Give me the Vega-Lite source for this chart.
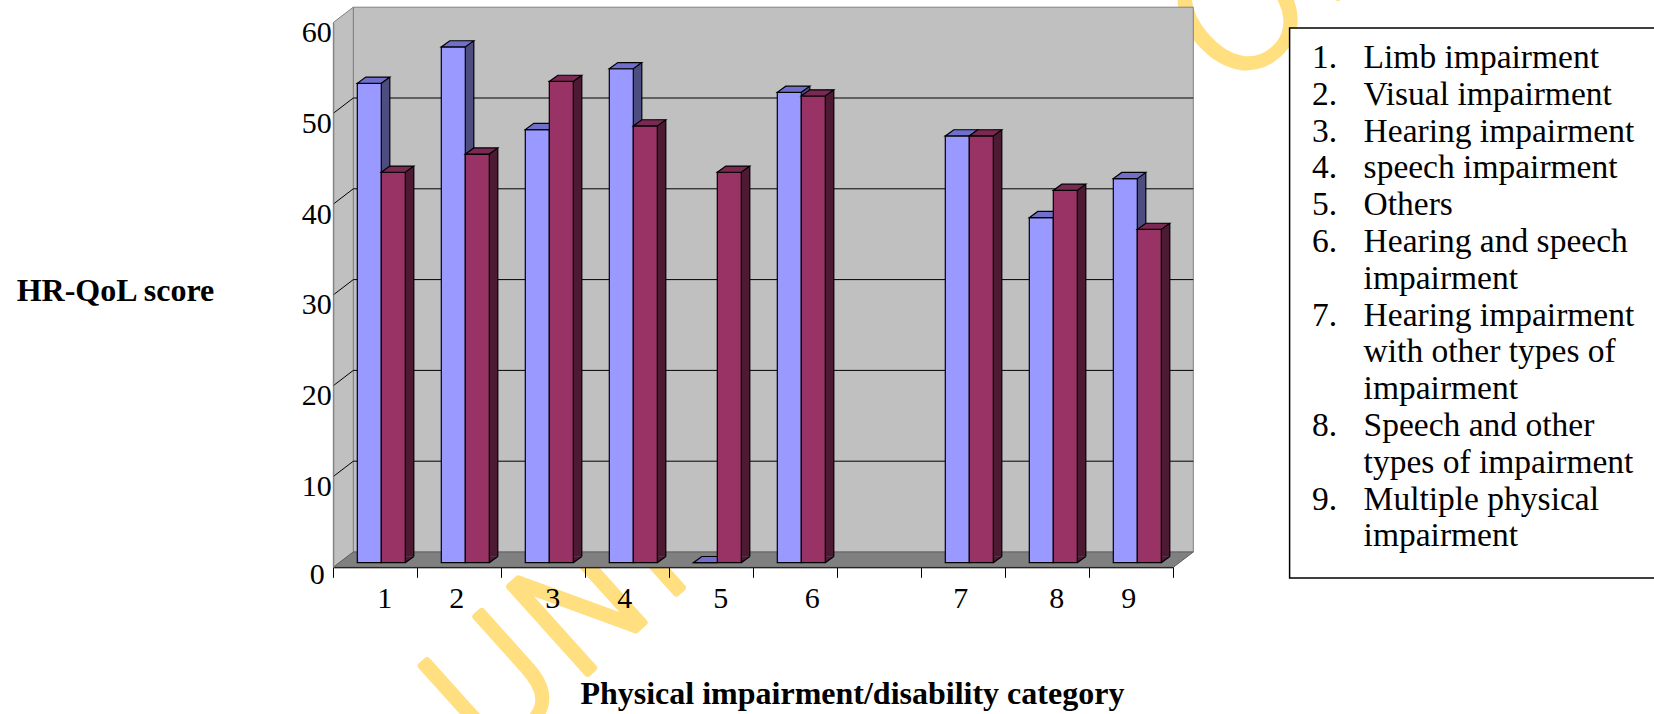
{
  "$schema": "https://vega.github.io/schema/vega-lite/v6.json",
  "width": 1654,
  "height": 714,
  "autosize": {"type": "none"},
  "padding": 0,
  "background": "white",
  "config": {"view": {"stroke": null}},
  "datasets": {
    "scores": [
      {"cat": "1", "series": "Series 1", "value": 52.8}, {"cat": "1", "series": "Series 2", "value": 43.0},
      {"cat": "2", "series": "Series 1", "value": 56.8}, {"cat": "2", "series": "Series 2", "value": 45.0},
      {"cat": "3", "series": "Series 1", "value": 47.7}, {"cat": "3", "series": "Series 2", "value": 53.0},
      {"cat": "4", "series": "Series 1", "value": 54.4}, {"cat": "4", "series": "Series 2", "value": 48.1},
      {"cat": "5", "series": "Series 1", "value": 0}, {"cat": "5", "series": "Series 2", "value": 43.0},
      {"cat": "6", "series": "Series 1", "value": 51.8}, {"cat": "6", "series": "Series 2", "value": 51.4},
      {"cat": "7", "series": "Series 1", "value": 47.0}, {"cat": "7", "series": "Series 2", "value": 47.0},
      {"cat": "8", "series": "Series 1", "value": 38.0}, {"cat": "8", "series": "Series 2", "value": 41.0},
      {"cat": "9", "series": "Series 1", "value": 42.3}, {"cat": "9", "series": "Series 2", "value": 36.7}
    ],
    "grid": [{"tick": 10}, {"tick": 20}, {"tick": 30}, {"tick": 40}, {"tick": 50}],
    "one": [{}],
    "legendItems": [
      {"key": "1", "num": "1.", "text": "Limb impairment"},
      {"key": "2", "num": "2.", "text": "Visual impairment"},
      {"key": "3", "num": "3.", "text": "Hearing impairment"},
      {"key": "4", "num": "4.", "text": "speech impairment"},
      {"key": "5", "num": "5.", "text": "Others"},
      {"key": "6", "num": "6.", "text": "Hearing and speech"},
      {"key": "6b", "num": "", "text": "impairment"},
      {"key": "7", "num": "7.", "text": "Hearing impairment"},
      {"key": "7b", "num": "", "text": "with other types of"},
      {"key": "7c", "num": "", "text": "impairment"},
      {"key": "8", "num": "8.", "text": "Speech and other"},
      {"key": "8b", "num": "", "text": "types of impairment"},
      {"key": "9", "num": "9.", "text": "Multiple physical"},
      {"key": "9b", "num": "", "text": "impairment"}
    ]
  },
  "layer": [
    {
      "data": {"name": "one"},
      "mark": {"type": "text", "text": "UNIVERSITY OF IBADAN LIBRARY", "angle": -42, "align": "left", "baseline": "alphabetic", "font": "DejaVu Sans", "fontWeight": 200, "fontSize": 160, "fill": "#FFDF80", "stroke": "#FFDF80", "strokeWidth": 7, "strokeJoin": "round", "dx": -43.5, "dy": 246.8},
      "encoding": {
        "x": {"datum": "1", "bandPosition": 0, "type": "nominal", "axis": null, "scale": {"type": "band", "domain": ["1", "2", "3", "4", "5", "6", " ", "7", "8", "9"], "range": [353.3, 1193.3], "paddingInner": 0, "paddingOuter": 0}},
        "y": {"datum": 0, "type": "quantitative", "axis": null, "scale": {"type": "linear", "domain": [0, 60], "range": [552, 7.2], "nice": false, "zero": true}}
      }
    },
    {
      "data": {"name": "one"},
      "mark": {"type": "rect", "fill": "#C0C0C0", "stroke": "#808080", "strokeWidth": 1},
      "encoding": {
        "x": {"datum": "1", "bandPosition": 0, "type": "nominal", "axis": null, "scale": {"type": "band", "domain": ["1", "2", "3", "4", "5", "6", " ", "7", "8", "9"], "range": [353.3, 1193.3], "paddingInner": 0, "paddingOuter": 0}},
        "x2": {"datum": "9", "bandPosition": 1},
        "y": {"datum": 0, "type": "quantitative", "axis": null, "scale": {"type": "linear", "domain": [0, 60], "range": [552, 7.2], "nice": false, "zero": true}},
        "y2": {"datum": 60}
      }
    },
    {
      "data": {"name": "one"},
      "mark": {"type": "point", "shape": "M0 0 L0 -544.8 L-20 -529.5 L-20 15.3 Z", "size": 4, "filled": true, "fill": "#C0C0C0", "stroke": "#808080", "strokeWidth": 1, "opacity": 1},
      "encoding": {
        "x": {"datum": "1", "bandPosition": 0, "type": "nominal", "axis": null, "scale": {"type": "band", "domain": ["1", "2", "3", "4", "5", "6", " ", "7", "8", "9"], "range": [353.3, 1193.3], "paddingInner": 0, "paddingOuter": 0}},
        "y": {"datum": 0, "type": "quantitative", "axis": null, "scale": {"type": "linear", "domain": [0, 60], "range": [552, 7.2], "nice": false, "zero": true}}
      }
    },
    {
      "data": {"name": "one"},
      "mark": {"type": "point", "shape": "M0 0 L840 0 L820 15.3 L-20 15.3 Z", "size": 4, "filled": true, "fill": "#808080", "stroke": "#606060", "strokeWidth": 1, "opacity": 1},
      "encoding": {
        "x": {"datum": "1", "bandPosition": 0, "type": "nominal", "axis": null, "scale": {"type": "band", "domain": ["1", "2", "3", "4", "5", "6", " ", "7", "8", "9"], "range": [353.3, 1193.3], "paddingInner": 0, "paddingOuter": 0}},
        "y": {"datum": 0, "type": "quantitative", "axis": null, "scale": {"type": "linear", "domain": [0, 60], "range": [552, 7.2], "nice": false, "zero": true}}
      }
    },
    {
      "data": {"name": "grid"},
      "mark": {"type": "rule", "color": "black", "strokeWidth": 1},
      "encoding": {
        "x": {"datum": "1", "bandPosition": 0, "type": "nominal", "axis": null, "scale": {"type": "band", "domain": ["1", "2", "3", "4", "5", "6", " ", "7", "8", "9"], "range": [353.3, 1193.3], "paddingInner": 0, "paddingOuter": 0}},
        "x2": {"datum": "9", "bandPosition": 1},
        "y": {"field": "tick", "type": "quantitative", "axis": null, "scale": {"type": "linear", "domain": [0, 60], "range": [552, 7.2], "nice": false, "zero": true}}
      }
    },
    {
      "data": {"name": "grid"},
      "mark": {"type": "rule", "color": "black", "strokeWidth": 1, "x2Offset": -20, "y2Offset": 15.3},
      "encoding": {
        "x": {"datum": "1", "bandPosition": 0, "type": "nominal", "axis": null, "scale": {"type": "band", "domain": ["1", "2", "3", "4", "5", "6", " ", "7", "8", "9"], "range": [353.3, 1193.3], "paddingInner": 0, "paddingOuter": 0}},
        "x2": {"datum": "1", "bandPosition": 0},
        "y": {"field": "tick", "type": "quantitative", "axis": null, "scale": {"type": "linear", "domain": [0, 60], "range": [552, 7.2], "nice": false, "zero": true}},
        "y2": {"field": "tick"}
      }
    },
    {
      "data": {"name": "scores"},
      "transform": [{"filter": "datum.series === 'Series 1'"}],
      "mark": {"type": "rect", "fill": "#4D4D80", "strokeWidth": 0, "yOffset": 4.5, "y2Offset": 4.5},
      "encoding": {
        "x": {"field": "cat", "type": "nominal", "bandPosition": 0.333333, "axis": null, "scale": {"type": "band", "domain": ["1", "2", "3", "4", "5", "6", " ", "7", "8", "9"], "range": [353.3, 1193.3], "paddingInner": 0, "paddingOuter": 0}},
        "x2": {"field": "cat", "bandPosition": 0.434524},
        "y": {"field": "value", "type": "quantitative", "axis": null, "scale": {"type": "linear", "domain": [0, 60], "range": [552, 7.2], "nice": false, "zero": true}},
        "y2": {"datum": 0}
      }
    },
    {
      "data": {"name": "scores"},
      "transform": [{"filter": "datum.series === 'Series 1' && datum.value > 0"}],
      "mark": {"type": "point", "shape": "M0 0 L0 -6.2 L8.5 -6.2 Z", "size": 4, "filled": true, "fill": "#4D4D80", "strokeWidth": 0, "opacity": 1, "yOffset": 10.7},
      "encoding": {
        "x": {"field": "cat", "type": "nominal", "bandPosition": 0.333333, "axis": null, "scale": {"type": "band", "domain": ["1", "2", "3", "4", "5", "6", " ", "7", "8", "9"], "range": [353.3, 1193.3], "paddingInner": 0, "paddingOuter": 0}},
        "y": {"datum": 0, "type": "quantitative", "axis": null, "scale": {"type": "linear", "domain": [0, 60], "range": [552, 7.2], "nice": false, "zero": true}}
      }
    },
    {
      "data": {"name": "scores"},
      "transform": [{"filter": "datum.series === 'Series 1' && datum.value > 0"}],
      "mark": {"type": "rule", "color": "black", "strokeWidth": 1.2, "yOffset": 4.5, "y2Offset": 4.5},
      "encoding": {
        "x": {"field": "cat", "type": "nominal", "bandPosition": 0.434524, "axis": null, "scale": {"type": "band", "domain": ["1", "2", "3", "4", "5", "6", " ", "7", "8", "9"], "range": [353.3, 1193.3], "paddingInner": 0, "paddingOuter": 0}},
        "y": {"field": "value", "type": "quantitative", "axis": null, "scale": {"type": "linear", "domain": [0, 60], "range": [552, 7.2], "nice": false, "zero": true}},
        "y2": {"datum": 0}
      }
    },
    {
      "data": {"name": "scores"},
      "transform": [{"filter": "datum.series === 'Series 1' && datum.value > 0"}],
      "mark": {"type": "point", "shape": "M0 0 L8.5 -6.2", "size": 4, "filled": false, "stroke": "black", "strokeWidth": 1.2, "opacity": 1, "yOffset": 10.7},
      "encoding": {
        "x": {"field": "cat", "type": "nominal", "bandPosition": 0.333333, "axis": null, "scale": {"type": "band", "domain": ["1", "2", "3", "4", "5", "6", " ", "7", "8", "9"], "range": [353.3, 1193.3], "paddingInner": 0, "paddingOuter": 0}},
        "y": {"datum": 0, "type": "quantitative", "axis": null, "scale": {"type": "linear", "domain": [0, 60], "range": [552, 7.2], "nice": false, "zero": true}}
      }
    },
    {
      "data": {"name": "scores"},
      "transform": [{"filter": "datum.series === 'Series 1'"}],
      "mark": {"type": "rect", "fill": "#9999FF", "stroke": "black", "strokeWidth": 1.2, "yOffset": 10.7, "y2Offset": 10.7},
      "encoding": {
        "x": {"field": "cat", "type": "nominal", "bandPosition": 0.047619,
              "scale": {"type": "band", "domain": ["1", "2", "3", "4", "5", "6", " ", "7", "8", "9"], "range": [353.3, 1193.3], "paddingInner": 0, "paddingOuter": 0},
              "axis": {
                "orient": "bottom", "offset": -146.7, "position": -20, "zindex": 1,
                "domain": true, "domainColor": "black", "domainWidth": 1,
                "ticks": true, "tickColor": "black", "tickSize": 10, "tickWidth": 1, "tickBand": "extent",
                "labelFont": "Liberation Serif", "labelFontSize": 30, "labelColor": "black", "labelPadding": 6.5, "labelAngle": 0,
                "labelOffset": {"condition": {"test": "datum.value === '1' || datum.value === '3' || datum.value === '5' || datum.value === '6' || datum.value === '8'", "value": 9}, "value": -3},
                "labelAlign": {"condition": {"test": "datum.value === '6'", "value": "left"}, "value": "center"},
                "grid": false,
                "title": "Physical impairment/disability category",
                "titleFont": "Liberation Serif", "titleFontSize": 32, "titleFontWeight": "bold", "titleColor": "black",
                "titleX": 871.9, "titleY": 136.2, "titleAlign": "center", "titleBaseline": "alphabetic", "titleAngle": 0
              }},
        "x2": {"field": "cat", "bandPosition": 0.333333},
        "y": {"field": "value", "type": "quantitative",
              "scale": {"type": "linear", "domain": [0, 60], "range": [552, 7.2], "nice": false, "zero": true},
              "axis": {
                "orient": "left", "offset": -333.3, "position": 15.3, "zindex": 1,
                "values": [0, 10, 20, 30, 40, 50, 60], "format": "d",
                "domain": true, "domainColor": "#808080", "domainWidth": 1,
                "ticks": false, "tickSize": 0,
                "labelFont": "Liberation Serif", "labelFontSize": 30, "labelColor": "black", "labelAlign": "right", "labelBaseline": "alphabetic",
                "labelOffset": {"condition": {"test": "datum.value === 0", "value": 16}, "value": 19},
                "labelPadding": {"condition": {"test": "datum.value === 0", "value": 9}, "value": 2},
                "grid": false,
                "title": "HR-QoL score",
                "titleFont": "Liberation Serif", "titleFontSize": 32, "titleFontWeight": "bold", "titleColor": "black",
                "titleAngle": 0, "titleX": -317.1, "titleY": 284.9, "titleAlign": "left", "titleBaseline": "alphabetic"
              }},
        "y2": {"datum": 0}
      }
    },
    {
      "data": {"name": "scores"},
      "transform": [{"filter": "datum.series === 'Series 1'"}],
      "mark": {"type": "point", "shape": "M0 0 L24 0 L32.5 -6.2 L8.5 -6.2 Z", "size": 4, "filled": true, "fill": "#7070CC", "stroke": "black", "strokeWidth": 1.2, "opacity": 1, "yOffset": 10.7},
      "encoding": {
        "x": {"field": "cat", "type": "nominal", "bandPosition": 0.047619, "axis": null, "scale": {"type": "band", "domain": ["1", "2", "3", "4", "5", "6", " ", "7", "8", "9"], "range": [353.3, 1193.3], "paddingInner": 0, "paddingOuter": 0}},
        "y": {"field": "value", "type": "quantitative", "axis": null, "scale": {"type": "linear", "domain": [0, 60], "range": [552, 7.2], "nice": false, "zero": true}}
      }
    },
    {
      "data": {"name": "scores"},
      "transform": [{"filter": "datum.series === 'Series 2'"}],
      "mark": {"type": "rect", "fill": "#4D1A33", "strokeWidth": 0, "yOffset": 4.5, "y2Offset": 4.5},
      "encoding": {
        "x": {"field": "cat", "type": "nominal", "bandPosition": 0.619048, "axis": null, "scale": {"type": "band", "domain": ["1", "2", "3", "4", "5", "6", " ", "7", "8", "9"], "range": [353.3, 1193.3], "paddingInner": 0, "paddingOuter": 0}},
        "x2": {"field": "cat", "bandPosition": 0.720238},
        "y": {"field": "value", "type": "quantitative", "axis": null, "scale": {"type": "linear", "domain": [0, 60], "range": [552, 7.2], "nice": false, "zero": true}},
        "y2": {"datum": 0}
      }
    },
    {
      "data": {"name": "scores"},
      "transform": [{"filter": "datum.series === 'Series 2' && datum.value > 0"}],
      "mark": {"type": "point", "shape": "M0 0 L0 -6.2 L8.5 -6.2 Z", "size": 4, "filled": true, "fill": "#4D1A33", "strokeWidth": 0, "opacity": 1, "yOffset": 10.7},
      "encoding": {
        "x": {"field": "cat", "type": "nominal", "bandPosition": 0.619048, "axis": null, "scale": {"type": "band", "domain": ["1", "2", "3", "4", "5", "6", " ", "7", "8", "9"], "range": [353.3, 1193.3], "paddingInner": 0, "paddingOuter": 0}},
        "y": {"datum": 0, "type": "quantitative", "axis": null, "scale": {"type": "linear", "domain": [0, 60], "range": [552, 7.2], "nice": false, "zero": true}}
      }
    },
    {
      "data": {"name": "scores"},
      "transform": [{"filter": "datum.series === 'Series 2' && datum.value > 0"}],
      "mark": {"type": "rule", "color": "black", "strokeWidth": 1.2, "yOffset": 4.5, "y2Offset": 4.5},
      "encoding": {
        "x": {"field": "cat", "type": "nominal", "bandPosition": 0.720238, "axis": null, "scale": {"type": "band", "domain": ["1", "2", "3", "4", "5", "6", " ", "7", "8", "9"], "range": [353.3, 1193.3], "paddingInner": 0, "paddingOuter": 0}},
        "y": {"field": "value", "type": "quantitative", "axis": null, "scale": {"type": "linear", "domain": [0, 60], "range": [552, 7.2], "nice": false, "zero": true}},
        "y2": {"datum": 0}
      }
    },
    {
      "data": {"name": "scores"},
      "transform": [{"filter": "datum.series === 'Series 2' && datum.value > 0"}],
      "mark": {"type": "point", "shape": "M0 0 L8.5 -6.2", "size": 4, "filled": false, "stroke": "black", "strokeWidth": 1.2, "opacity": 1, "yOffset": 10.7},
      "encoding": {
        "x": {"field": "cat", "type": "nominal", "bandPosition": 0.619048, "axis": null, "scale": {"type": "band", "domain": ["1", "2", "3", "4", "5", "6", " ", "7", "8", "9"], "range": [353.3, 1193.3], "paddingInner": 0, "paddingOuter": 0}},
        "y": {"datum": 0, "type": "quantitative", "axis": null, "scale": {"type": "linear", "domain": [0, 60], "range": [552, 7.2], "nice": false, "zero": true}}
      }
    },
    {
      "data": {"name": "scores"},
      "transform": [{"filter": "datum.series === 'Series 2'"}],
      "mark": {"type": "rect", "fill": "#993366", "stroke": "black", "strokeWidth": 1.2, "yOffset": 10.7, "y2Offset": 10.7},
      "encoding": {
        "x": {"field": "cat", "type": "nominal", "bandPosition": 0.333333, "axis": null, "scale": {"type": "band", "domain": ["1", "2", "3", "4", "5", "6", " ", "7", "8", "9"], "range": [353.3, 1193.3], "paddingInner": 0, "paddingOuter": 0}},
        "x2": {"field": "cat", "bandPosition": 0.619048},
        "y": {"field": "value", "type": "quantitative", "axis": null, "scale": {"type": "linear", "domain": [0, 60], "range": [552, 7.2], "nice": false, "zero": true}},
        "y2": {"datum": 0}
      }
    },
    {
      "data": {"name": "scores"},
      "transform": [{"filter": "datum.series === 'Series 2'"}],
      "mark": {"type": "point", "shape": "M0 0 L24 0 L32.5 -6.2 L8.5 -6.2 Z", "size": 4, "filled": true, "fill": "#7A2952", "stroke": "black", "strokeWidth": 1.2, "opacity": 1, "yOffset": 10.7},
      "encoding": {
        "x": {"field": "cat", "type": "nominal", "bandPosition": 0.333333, "axis": null, "scale": {"type": "band", "domain": ["1", "2", "3", "4", "5", "6", " ", "7", "8", "9"], "range": [353.3, 1193.3], "paddingInner": 0, "paddingOuter": 0}},
        "y": {"field": "value", "type": "quantitative", "axis": null, "scale": {"type": "linear", "domain": [0, 60], "range": [552, 7.2], "nice": false, "zero": true}}
      }
    },
    {
      "data": {"name": "one"},
      "mark": {"type": "rect", "fill": "white", "stroke": "black", "strokeWidth": 1.5, "xOffset": -22.4, "x2Offset": 400, "yOffset": -40, "y2Offset": 31.6},
      "encoding": {
        "x": {"datum": "num", "type": "nominal", "axis": null, "scale": {"type": "point", "domain": ["num", "text"], "range": [1312, 1363.6], "padding": 0}},
        "x2": {"datum": "text"},
        "y": {"datum": "1", "type": "nominal", "axis": null, "scale": {"type": "point", "domain": ["1", "2", "3", "4", "5", "6", "6b", "7", "7b", "7c", "8", "8b", "9", "9b"], "range": [67.9, 546.4], "padding": 0}},
        "y2": {"datum": "9b"}
      }
    },
    {
      "data": {"name": "legendItems"},
      "mark": {"type": "text", "align": "left", "baseline": "alphabetic", "font": "Liberation Serif", "fontSize": 33.5, "fill": "black"},
      "encoding": {
        "x": {"datum": "num", "type": "nominal", "axis": null, "scale": {"type": "point", "domain": ["num", "text"], "range": [1312, 1363.6], "padding": 0}},
        "y": {"field": "key", "type": "nominal", "axis": null, "scale": {"type": "point", "domain": ["1", "2", "3", "4", "5", "6", "6b", "7", "7b", "7c", "8", "8b", "9", "9b"], "range": [67.9, 546.4], "padding": 0}},
        "text": {"field": "num"}
      }
    },
    {
      "data": {"name": "legendItems"},
      "mark": {"type": "text", "align": "left", "baseline": "alphabetic", "font": "Liberation Serif", "fontSize": 33.5, "fill": "black"},
      "encoding": {
        "x": {"datum": "text", "type": "nominal", "axis": null, "scale": {"type": "point", "domain": ["num", "text"], "range": [1312, 1363.6], "padding": 0}},
        "y": {"field": "key", "type": "nominal", "axis": null, "scale": {"type": "point", "domain": ["1", "2", "3", "4", "5", "6", "6b", "7", "7b", "7c", "8", "8b", "9", "9b"], "range": [67.9, 546.4], "padding": 0}},
        "text": {"field": "text"}
      }
    }
  ],
  "resolve": {"scale": {"x": "independent", "y": "independent"}, "axis": {"x": "independent", "y": "independent"}}
}
